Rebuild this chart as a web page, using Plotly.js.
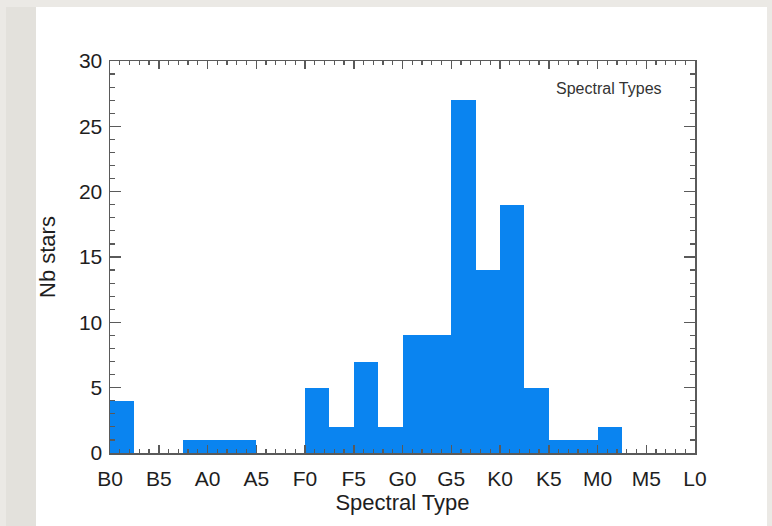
<!DOCTYPE html>
<html>
<head>
<meta charset="utf-8">
<script src="https://cdn.plot.ly/plotly-3.0.1.min.js"></script>
<style>
  html, body { margin: 0; padding: 0; background: #ebe9e5; }
  #chart { width: 772px; height: 526px; }
</style>
</head>
<body>
<div id="chart"></div>
<script>
// Spectral subtype scale: B0 = 0, A0 = 10, F0 = 20, G0 = 30, K0 = 40, M0 = 50, L0 = 60
const binWidth = 2.5;
const binLeft = [0, 2.5, 5, 7.5, 10, 12.5, 15, 17.5, 20, 22.5, 25, 27.5,
                 30, 32.5, 35, 37.5, 40, 42.5, 45, 47.5, 50, 52.5, 55, 57.5];
const nbStars = [4, 0, 0, 1, 1, 1, 0, 0, 5, 2, 7, 2,
                 9, 9, 27, 14, 19, 5, 1, 1, 2, 0, 0, 0];
const xTickVals = [0, 5, 10, 15, 20, 25, 30, 35, 40, 45, 50, 55, 60];
const xTickText = ['B0', 'B5', 'A0', 'A5', 'F0', 'F5', 'G0', 'G5', 'K0', 'K5', 'M0', 'M5', 'L0'];
const yTickVals = [0, 5, 10, 15, 20, 25, 30];

const axisColor = '#5a5a5a';
const font = 'Liberation Sans, Arial, Helvetica, sans-serif';

const trace = {
  type: 'bar',
  x: binLeft,
  y: nbStars,
  width: binWidth,
  offset: 0,
  marker: { color: '#0a84f0', line: { width: 0 } },
  hoverinfo: 'x+y'
};

const layout = {
  width: 772,
  height: 526,
  margin: { l: 110, r: 77, t: 61, b: 73 },
  paper_bgcolor: '#ebe9e5',
  plot_bgcolor: '#ffffff',
  showlegend: false,
  bargap: 0,
  font: { family: font, color: '#1e1e1e', size: 21 },
  xaxis: {
    range: [0, 60],
    tickmode: 'array',
    tickvals: xTickVals,
    ticktext: xTickText,
    ticks: 'inside',
    ticklen: 8,
    tickwidth: 1.5,
    tickcolor: axisColor,
    showline: true,
    linecolor: axisColor,
    linewidth: 1.5,
    mirror: 'ticks',
    showgrid: false,
    zeroline: false,
    ticklabelstandoff: 6,
    tickfont: { size: 21, family: font, color: '#1e1e1e' },
    minor: { dtick: 1, ticks: 'inside', ticklen: 4, tickwidth: 1.2, tickcolor: axisColor, showgrid: false },
    title: { text: 'Spectral Type', font: { size: 22, family: font, color: '#1e1e1e' }, standoff: 1 }
  },
  yaxis: {
    range: [0, 30],
    tickmode: 'array',
    tickvals: yTickVals,
    ticks: 'inside',
    ticklen: 11,
    tickwidth: 1.5,
    tickcolor: axisColor,
    showline: true,
    linecolor: axisColor,
    linewidth: 1.5,
    mirror: 'ticks',
    showgrid: false,
    zeroline: false,
    ticklabelstandoff: 2,
    tickfont: { size: 21, family: font, color: '#1e1e1e' },
    minor: { dtick: 1, ticks: 'inside', ticklen: 5, tickwidth: 1.2, tickcolor: axisColor, showgrid: false },
    title: { text: 'Nb stars', font: { size: 22, family: font, color: '#1e1e1e' }, standoff: 17 }
  },
  shapes: [
    { type: 'rect', xref: 'paper', yref: 'paper', layer: 'below',
      x0: -0.1778, x1: -0.1265, y0: -0.19, y1: 1.138,
      fillcolor: '#e3e1dc', line: { width: 0 } },
    { type: 'rect', xref: 'paper', yref: 'paper', layer: 'below',
      x0: -0.1265, x1: 1.1231, y0: -0.19, y1: 1.138,
      fillcolor: '#ffffff', line: { width: 0 } }
  ],
  annotations: [
    { text: 'Spectral Types', xref: 'paper', yref: 'paper', x: 0.853, y: 0.9286,
      xanchor: 'center', yanchor: 'middle', showarrow: false,
      font: { size: 16, family: font, color: '#333333' } }
  ]
};

Plotly.newPlot('chart', [trace], layout, { displayModeBar: false, staticPlot: true });
</script>
</body>
</html>
